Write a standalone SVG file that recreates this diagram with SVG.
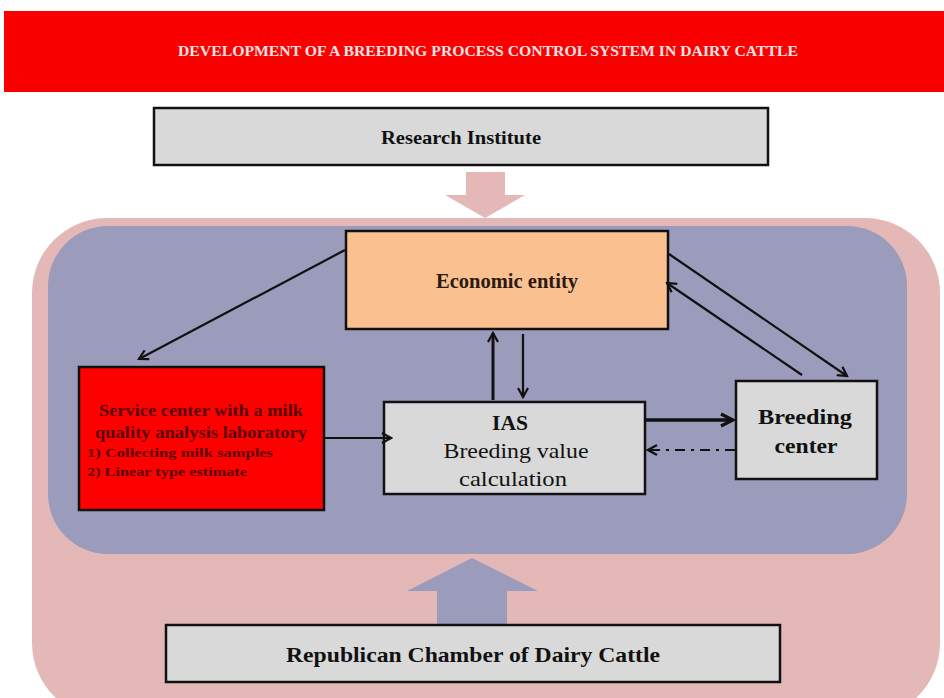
<svg xmlns="http://www.w3.org/2000/svg" width="944" height="698" viewBox="0 0 944 698">
<style>
.box{stroke:#111;stroke-width:2.5}
.t{font-family:"Liberation Serif","Times New Roman",serif;text-anchor:middle}
.b{font-weight:bold}
.c{fill:none;stroke:#111;stroke-width:2.2}
</style>
<defs>
<marker id="ah" viewBox="0 0 12 12" refX="10" refY="6" markerWidth="12" markerHeight="12" markerUnits="userSpaceOnUse" orient="auto">
<path d="M1,1 L10,6 L1,11" fill="none" stroke="#111" stroke-width="2.2"/>
</marker>
<marker id="ahb" viewBox="0 0 16 16" refX="14" refY="8" markerWidth="16" markerHeight="16" markerUnits="userSpaceOnUse" orient="auto">
<path d="M2,2 L14,8 L2,14" fill="none" stroke="#111" stroke-width="3.2"/>
</marker>
</defs>
<rect width="944" height="698" fill="#ffffff"/>
<g id="banner">
<rect x="4" y="11" width="940" height="81" fill="#fb0000"/>
<text class="t b" x="488" y="56" font-size="14" fill="#f6e4e4" textLength="620" lengthAdjust="spacingAndGlyphs">DEVELOPMENT  OF A BREEDING PROCESS CONTROL SYSTEM  IN DAIRY CATTLE</text>
</g>
<g id="outer">
<rect x="32" y="218" width="908" height="500" rx="75" fill="#e5b8b8"/>
</g>
<g id="inner">
<rect x="48" y="226" width="859" height="328" rx="60" fill="#9b9bbc"/>
</g>
<g id="arrow-down">
<path d="M466,172 H505 V195 H525 L485,218 L445,195 H466 Z" fill="#e5b8b8"/>
</g>
<g id="arrow-up">
<path d="M437,624 V591 H407 L472,558 L538,591 H507 V624 Z" fill="#9b9bbc"/>
</g>
<g id="research-institute">
<rect class="box" x="154" y="108" width="614" height="57" fill="#d9d9d9"/>
<text class="t b" x="461" y="144" font-size="19" fill="#111" textLength="160" lengthAdjust="spacingAndGlyphs">Research Institute</text>
</g>
<g id="economic-entity">
<rect class="box" x="346" y="231" width="322" height="98" fill="#fac090"/>
<text class="t b" x="507" y="288" font-size="20" fill="#2a1a10" textLength="142" lengthAdjust="spacingAndGlyphs">Economic entity</text>
</g>
<g id="service-center">
<rect class="box" x="79" y="367" width="245" height="143" fill="#ff0000"/>
<text class="t b" x="201" y="416" font-size="17" fill="#5a0000" textLength="204" lengthAdjust="spacingAndGlyphs">Service center with a milk</text>
<text class="t b" x="201" y="438" font-size="17" fill="#5a0000" textLength="212" lengthAdjust="spacingAndGlyphs">quality analysis laboratory</text>
<text class="t b" x="87" y="457" font-size="13.5" fill="#5a0000" style="text-anchor:start" textLength="186" lengthAdjust="spacingAndGlyphs">1)  Collecting milk  samples</text>
<text class="t b" x="87" y="476" font-size="13.5" fill="#5a0000" style="text-anchor:start" textLength="160" lengthAdjust="spacingAndGlyphs">2)  Linear  type estimate</text>
</g>
<g id="ias">
<rect class="box" x="384" y="402" width="261" height="92" fill="#d9d9d9"/>
<text class="t b" x="510" y="430" font-size="22" fill="#111" textLength="36" lengthAdjust="spacingAndGlyphs">IAS</text>
<text class="t" x="516" y="458" font-size="22" fill="#111" textLength="145" lengthAdjust="spacingAndGlyphs">Breeding value</text>
<text class="t" x="513" y="486" font-size="22" fill="#111" textLength="108" lengthAdjust="spacingAndGlyphs">calculation</text>
</g>
<g id="breeding-center">
<rect class="box" x="736" y="381" width="141" height="98" fill="#d9d9d9"/>
<text class="t b" x="805" y="424" font-size="22" fill="#111" textLength="94" lengthAdjust="spacingAndGlyphs">Breeding</text>
<text class="t b" x="806" y="453" font-size="22" fill="#111" textLength="63" lengthAdjust="spacingAndGlyphs">center</text>
</g>
<g id="republican-chamber">
<rect class="box" x="166" y="625" width="614" height="57" fill="#d9d9d9"/>
<text class="t b" x="473" y="662" font-size="22" fill="#111" textLength="374" lengthAdjust="spacingAndGlyphs">Republican Chamber of Dairy Cattle</text>
</g>
<g id="connectors">
<line class="c" x1="345" y1="250" x2="139" y2="359" marker-end="url(#ah)"/>
<line class="c" x1="493" y1="400" x2="493" y2="333" marker-end="url(#ah)" style="stroke-width:3"/>
<line class="c" x1="523" y1="334" x2="523" y2="397" marker-end="url(#ah)"/>
<line class="c" x1="325" y1="438" x2="391" y2="438" marker-end="url(#ah)"/>
<line class="c" x1="646" y1="420" x2="733" y2="420" marker-end="url(#ahb)" style="stroke-width:3.5"/>
<line class="c" x1="735" y1="450" x2="648" y2="450" marker-end="url(#ah)" stroke-dasharray="10,6,3,6"/>
<line class="c" x1="669" y1="254" x2="847" y2="376" marker-end="url(#ah)"/>
<line class="c" x1="802" y1="375" x2="667" y2="283" marker-end="url(#ah)"/>
</g>
</svg>
